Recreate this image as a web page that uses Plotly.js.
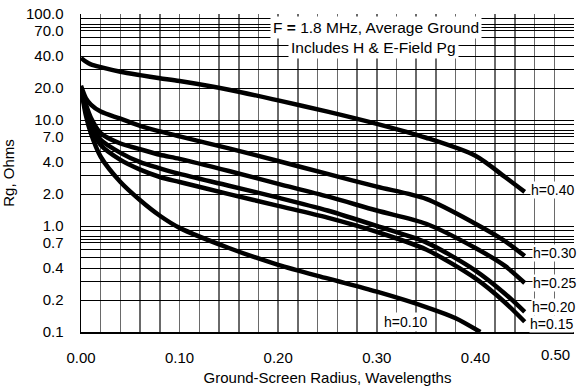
<!DOCTYPE html>
<html>
<head>
<meta charset="utf-8">
<script src="https://cdn.plot.ly/plotly-3.0.1.min.js"></script>
<style>html,body{margin:0;padding:0;background:#fff;}#chart{width:579px;height:386px;}</style>
</head>
<body>
<div id="chart"></div>
<script>
// ---- data ----
const xCommon = [0, 0.005, 0.01, 0.02, 0.04, 0.06, 0.08, 0.10, 0.15, 0.20, 0.25, 0.30, 0.35, 0.40, 0.43, 0.45];
const rg_h040 = [38.5, 35.5, 33.5, 31.5, 28.5, 26.5, 24.8, 23.3, 19.3, 15.3, 12.0, 9.2, 6.8, 4.6, 2.9, 2.1];
const rg_h030 = [21, 16, 14, 12, 10.3, 8.8, 7.8, 7.0, 5.4, 4.1, 3.1, 2.35, 1.8, 1.05, 0.72, 0.52];
const rg_h025 = [20, 14, 10.5, 7.5, 6.0, 5.3, 4.7, 4.3, 3.3, 2.5, 1.9, 1.4, 1.05, 0.62, 0.42, 0.29];
const rg_h020 = [20, 13, 9.5, 6.5, 4.9, 4.0, 3.5, 3.1, 2.4, 1.85, 1.4, 1.0, 0.7, 0.38, 0.23, 0.155];
const rg_h015 = [20, 12, 8.5, 5.8, 4.2, 3.4, 2.9, 2.6, 2.0, 1.55, 1.2, 0.88, 0.6, 0.32, 0.19, 0.125];
const x_h010 = [0, 0.005, 0.01, 0.02, 0.04, 0.06, 0.08, 0.10, 0.15, 0.20, 0.25, 0.30, 0.35, 0.38, 0.405];
const rg_h010 = [20, 11, 7.5, 4.5, 2.6, 1.75, 1.25, 0.96, 0.62, 0.43, 0.32, 0.24, 0.172, 0.135, 0.1];

const curveLabels = ["h=0.40", "h=0.30", "h=0.25", "h=0.20", "h=0.15", "h=0.10"];

const xGridVals = [0,0.02,0.04,0.06,0.08,0.10,0.12,0.14,0.16,0.18,0.20,0.22,0.24,0.26,0.28,0.30,0.32,0.34,0.36,0.38,0.40,0.42,0.44,0.46,0.48,0.50];
const xTickLabels = {0:"0.00", 0.1:"0.10", 0.2:"0.20", 0.3:"0.30", 0.4:"0.40"};
const yGridVals = [0.1,0.2,0.3,0.4,0.5,0.6,0.7,0.75,0.8,0.9,1,2,3,4,5,6,7,7.5,8,9,10,20,30,40,50,60,70,75,80,90,100];
const yTickLabels = {0.1:"0.1",0.2:"0.2",0.4:"0.4",0.7:"0.7",1:"1.0",2:"2.0",4:"4.0",7:"7.0",10:"10.0",20:"20.0",40:"40.0",70:"70.0",100:"100.0"};

// ---- build ----
const series = [
  {x: xCommon, y: rg_h040, label: curveLabels[0]},
  {x: xCommon, y: rg_h030, label: curveLabels[1]},
  {x: xCommon, y: rg_h025, label: curveLabels[2]},
  {x: xCommon, y: rg_h020, label: curveLabels[3]},
  {x: xCommon, y: rg_h015, label: curveLabels[4]},
  {x: x_h010, y: rg_h010, label: curveLabels[5]}
];
const traces = series.map(s => ({
  x: s.x, y: s.y, name: s.label, type: 'scatter', mode: 'lines',
  line: {color: '#000', width: 4.5, shape: 'spline', smoothing: 0.8},
  hoverinfo: 'skip'
}));

const FONT = 'Liberation Sans, Arial, Helvetica, sans-serif';
const labelPos = [
  {x: 0.4555, y: 2.2},
  {x: 0.4575, y: 0.557},
  {x: 0.4575, y: 0.29},
  {x: 0.4565, y: 0.172},
  {x: 0.4545, y: 0.119}
];
const annotations = labelPos.map((p, i) => ({
  x: p.x, y: Math.log10(p.y), xref: 'x', yref: 'y', text: curveLabels[i],
  showarrow: false, xanchor: 'left', yanchor: 'middle', bgcolor: '#fff', borderpad: 0,
  font: {family: FONT, size: 14, color: '#000'}
}));
annotations.push({
  x: 0.3286, y: Math.log10(0.124), xref: 'x', yref: 'y', text: curveLabels[5],
  showarrow: false, xanchor: 'center', yanchor: 'middle', bgcolor: '#fff', borderpad: 1,
  font: {family: FONT, size: 14, color: '#000'}
});
annotations.push({
  x: 0.599, y: 0.956, xref: 'paper', yref: 'paper', text: 'F <b>=</b> 1.8 MHz, Average Ground',
  showarrow: false, xanchor: 'center', yanchor: 'middle', bgcolor: '#fff', borderpad: 2,
  font: {family: FONT, size: 15.5, color: '#000'}
});
annotations.push({
  x: 0.593, y: 0.896, xref: 'paper', yref: 'paper', text: 'Includes H &amp; E-Field Pg',
  showarrow: false, xanchor: 'center', yanchor: 'middle', bgcolor: '#fff', borderpad: 2,
  font: {family: FONT, size: 15.5, color: '#000'}
});
annotations.push({
  x: 0.5, y: 0, xref: 'x', yref: 'paper', text: '0.50',
  showarrow: false, xanchor: 'right', yanchor: 'top', yshift: -12, xshift: -2,
  font: {family: FONT, size: 15, color: '#000'}
});

const layout = {
  width: 579, height: 386,
  margin: {l: 81, r: 5, t: 14, b: 54},
  paper_bgcolor: '#fff', plot_bgcolor: '#fff',
  showlegend: false,
  font: {family: FONT, size: 15, color: '#000'},
  xaxis: {
    range: [0, 0.5], tickmode: 'array', tickvals: xGridVals,
    ticktext: xGridVals.map(v => xTickLabels[v] || ''),
    showgrid: true, gridcolor: '#6a6a6a', gridwidth: 1.5,
    ticks: '', ticklabelstandoff: 11, zeroline: false,
    showline: true, linecolor: '#000', linewidth: 1.5,
    title: {text: 'Ground-Screen Radius, Wavelengths', font: {family: FONT, size: 15}, standoff: 9},
    tickfont: {family: FONT, size: 15}
  },
  yaxis: {
    type: 'log', range: [-1, 2], tickmode: 'array', tickvals: yGridVals,
    ticktext: yGridVals.map(v => yTickLabels[v] || ''),
    showgrid: true, gridcolor: '#000', gridwidth: 1,
    ticks: '', ticklabelstandoff: 13, zeroline: false,
    showline: true, linecolor: '#000', linewidth: 1.5,
    title: {text: 'Rg, Ohms', font: {family: FONT, size: 15}, standoff: 14},
    tickfont: {family: FONT, size: 15}
  },
  annotations: annotations
};

Plotly.newPlot('chart', traces, layout, {staticPlot: true, displayModeBar: false});
</script>
</body>
</html>
